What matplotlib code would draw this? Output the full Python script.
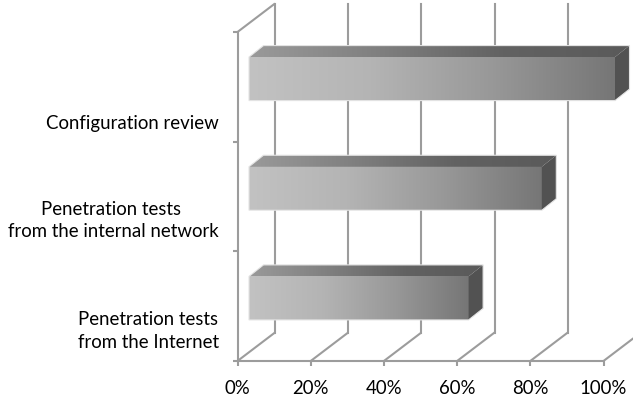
import numpy as np
import matplotlib
matplotlib.use('Agg')
import matplotlib.pyplot as plt
from matplotlib.colors import LinearSegmentedColormap
from matplotlib.patches import Polygon
from matplotlib.transforms import Affine2D

plt.rcParams['font.family'] = ['Lato', 'DejaVu Sans']

categories = ['Penetration tests\nfrom the Internet',
              'Penetration tests \nfrom the internal network',
              'Configuration review']
values = [60, 80, 100]
x_ticks = [0, 20, 40, 60, 80, 100]
x_labels = ['0%', '20%', '40%', '60%', '80%', '100%']

W, H = 633, 398
fig = plt.figure(figsize=(W / 100, H / 100), dpi=100)
# floor of the front plane runs 237.5..603.5 px, wall 32..361 px from the top
ax = fig.add_axes([237.5 / W, 1 - 361 / H, 366 / W, 329 / H])
ax.set_xlim(0, 100)
ax.set_ylim(0, 3)
for s in ax.spines.values():
    s.set_visible(False)
ax.set_xticks([])
ax.set_yticks([])
ax.patch.set_visible(False)

px_x = 3.66      # px per percent
px_y = 329 / 3   # px per category band
depth_x, depth_y = 37.5, 28.5
bar_dx, bar_dy = 11.5, 8
bar_h = 43.5 / px_y
top_x, top_y = 14.5, 11.5

grid_c = '#9c9c9c'
lw = 1.5

def line(xs, ys, z=1):
    ax.plot(xs, ys, color=grid_c, lw=lw, clip_on=False, zorder=z, solid_capstyle='butt')

# back wall and floor
back = ax.transData + Affine2D().translate(depth_x, depth_y)
for t in x_ticks:
    ax.plot([t, t], [0, 3], color=grid_c, lw=lw, clip_on=False, zorder=1, transform=back)
    line([t, t + depth_x / px_x], [0, depth_y / px_y])
    line([t, t], [0, -5 / px_y])
line([0, 0], [0, 3])
line([0, depth_x / px_x], [3, 3 + depth_y / px_y])
line([-5 / px_x, 100], [0, 0])
for i in range(1, 4):
    line([-5 / px_x, 0], [i, i])

front_cm = LinearSegmentedColormap.from_list('front', ['#c2c2c2', '#b4b4b4', '#989898', '#767676'])
top_cm = LinearSegmentedColormap.from_list('top', ['#9a9a9a', '#808080', '#626262', '#5a5a5a'])
ramp = np.linspace(0, 1, 256).reshape(1, -1)

for i, v in enumerate(values):
    x0 = bar_dx / px_x
    x1 = x0 + v
    y0 = i + 0.5 + bar_dy / px_y - bar_h / 2
    y1 = y0 + bar_h
    dx = top_x / px_x
    dy = top_y / px_y
    z = 3 + (2 - i)

    im = ax.imshow(ramp, cmap=front_cm, extent=[x0, x1, y0, y1], aspect='auto', zorder=z,
                   clip_on=False, interpolation='bilinear')
    # light outline around the box
    outline = Polygon([[x0, y0], [x1, y0], [x1 + dx, y0 + dy], [x1 + dx, y1 + dy],
                       [x0 + dx, y1 + dy], [x0, y1]], closed=True, fc='none', ec='#e4e4e4',
                      lw=0.8, clip_on=False, zorder=z + 0.5)
    ax.add_patch(outline)

    top_patch = Polygon([[x0, y1], [x1, y1], [x1 + dx, y1 + dy], [x0 + dx, y1 + dy]],
                        closed=True, fc='none', ec='none', transform=ax.transData)
    ax.add_patch(top_patch)
    top = ax.imshow(ramp, cmap=top_cm, extent=[x0, x1 + dx, y1, y1 + dy], aspect='auto',
                    zorder=z, interpolation='bilinear')
    top.set_clip_path(top_patch)
    top.set_clip_box(fig.bbox)

    ax.add_patch(Polygon([[x1, y0], [x1 + dx, y0 + dy], [x1 + dx, y1 + dy], [x1, y1]],
                         closed=True, fc='#525252', ec='none', clip_on=False, zorder=z + 0.2))

ax.set_xlim(0, 100)
ax.set_ylim(0, 3)

# axis labels
for t, lab in zip(x_ticks, x_labels):
    ax.annotate(lab, (t, 0), xytext=(0, -27 * 0.72), textcoords='offset points',
                ha='center', va='center', fontsize=13.4, color='#000000', annotation_clip=False)

label_shift = [25, 24, 37]
for i, lab in enumerate(categories):
    ax.annotate(lab, (0, i + 0.5), xytext=(-18.5 * 0.72, -label_shift[i] * 0.72),
                textcoords='offset points', ha='right', va='center', multialignment='center',
                fontsize=13.4, color='#000000', linespacing=1.4, annotation_clip=False)

fig.savefig('out.png', dpi=100)
